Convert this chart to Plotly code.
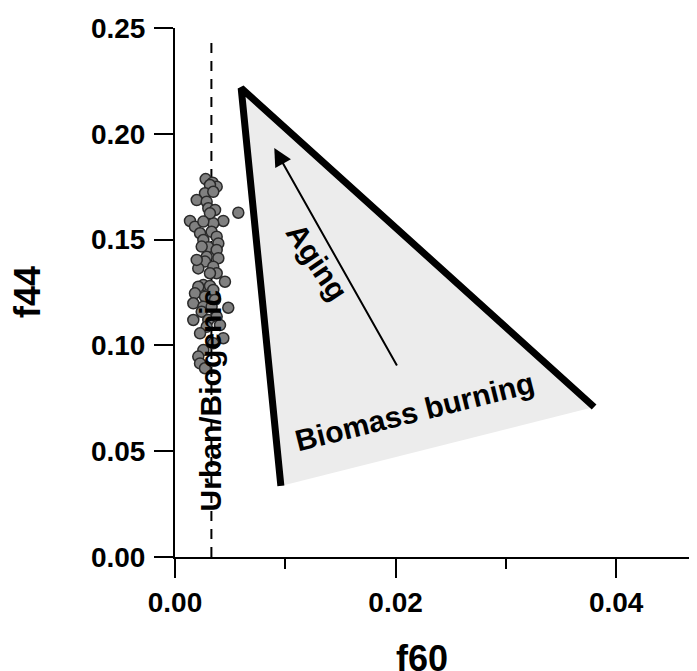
import plotly.graph_objects as go

# Observations (f60, f44)
f60_obs = [0.00278, 0.00341, 0.00378, 0.00317, 0.00272, 0.00347, 0.00197, 0.00287, 0.00302, 0.00363,
           0.00574, 0.00136, 0.00181, 0.00438, 0.00347, 0.00227, 0.00332, 0.00257, 0.00378, 0.00393,
           0.00302, 0.00378, 0.00393, 0.00287, 0.00272, 0.00211, 0.00347, 0.00378, 0.00317, 0.00453,
           0.00257, 0.00211, 0.00317, 0.00181, 0.00347, 0.00272, 0.00166, 0.00257, 0.00363, 0.00483,
           0.00242, 0.00166, 0.00302, 0.00378, 0.00408, 0.00438, 0.00347, 0.00257, 0.00211, 0.00227,
           0.00272, 0.00242, 0.00317, 0.00257, 0.00197, 0.00332, 0.00287, 0.00227]
f44_obs = [0.1786, 0.1769, 0.1750, 0.1758, 0.1719, 0.1726, 0.1687, 0.1679, 0.1648, 0.1640,
           0.1627, 0.1588, 0.1561, 0.1588, 0.1577, 0.1530, 0.1537, 0.1498, 0.1514, 0.1482,
           0.1464, 0.1451, 0.1412, 0.1419, 0.1396, 0.1364, 0.1372, 0.1341, 0.1341, 0.1301,
           0.1285, 0.1277, 0.1281, 0.1246, 0.1262, 0.1230, 0.1199, 0.1183, 0.1215, 0.1178,
           0.1159, 0.1120, 0.1120, 0.1136, 0.1096, 0.1034, 0.1010, 0.0978, 0.0947, 0.0915,
           0.0892, 0.1467, 0.1624, 0.1585, 0.1404, 0.1183, 0.1088, 0.1057]

# Biomass burning triangle vertices: bottom, top, right
tri_f60 = [0.0096, 0.0060, 0.0380]
tri_f44 = [0.0336, 0.2216, 0.0709]

# Urban/Biogenic reference line
urban_f60 = [0.0033, 0.0033]
urban_f44 = [0.0, 0.245]

# Aging arrow (tail -> head)
arrow_tail = (0.0202, 0.0898)
arrow_head = (0.0090, 0.1933)

x_ticks = [0.00, 0.02, 0.04]
x_ticklabels = ["0.00", "0.02", "0.04"]
y_ticks = [0.00, 0.05, 0.10, 0.15, 0.20, 0.25]
y_ticklabels = ["0.00", "0.05", "0.10", "0.15", "0.20", "0.25"]

FONT = "Liberation Sans, Arial, sans-serif"

# page has an 8px body margin; plot area should span page pixels x 175..697, y 28..557
OFF = 8
W, H = 697, 671
L, T = 175 - OFF, 28 - OFF
R = OFF
B = H + OFF - 557
PW, PH = W - L - R, H - T - B


def px_to_paper(px, py):
    return (px - OFF - L) / PW, (H - B - (py - OFF)) / PH


fig = go.Figure()

fig.add_trace(go.Scatter(x=tri_f60, y=tri_f44, fill="toself", fillcolor="#ececec",
                         mode="lines", line=dict(width=0, color="rgba(0,0,0,0)"),
                         hoverinfo="skip", showlegend=False))
fig.add_trace(go.Scatter(x=tri_f60, y=tri_f44, mode="lines",
                         line=dict(width=7, color="black"), showlegend=False))
fig.add_trace(go.Scatter(x=urban_f60, y=urban_f44, mode="lines",
                         line=dict(width=2, color="black", dash="10px,8px"), showlegend=False))
fig.add_trace(go.Scatter(x=f60_obs, y=f44_obs, mode="markers",
                         marker=dict(size=11, color="#808080", line=dict(width=1.5, color="#2a2a2a")),
                         showlegend=False))

fig.add_annotation(x=arrow_head[0], y=arrow_head[1], ax=arrow_tail[0], ay=arrow_tail[1],
                   xref="x", yref="y", axref="x", ayref="y", text="", showarrow=True,
                   arrowhead=2, arrowsize=1.8, arrowwidth=2, arrowcolor="black")

fig.add_annotation(x=0.01296, y=0.1394, xref="x", yref="y", text="<b>Aging</b>", showarrow=False,
                   textangle=56, xanchor="center", yanchor="middle",
                   font=dict(family=FONT, size=30, color="black"))
fig.add_annotation(x=0.02176, y=0.0690, xref="x", yref="y", text="<b>Biomass burning</b>", showarrow=False,
                   textangle=-14, xanchor="center", yanchor="middle",
                   font=dict(family=FONT, size=30, color="black"))
fig.add_annotation(x=0.0033, y=0.0742, xref="x", yref="y", text="<b>Urban/Biogenic</b>", showarrow=False,
                   textangle=-90, xanchor="center", yanchor="middle",
                   font=dict(family=FONT, size=30, color="black"))

xp, yp = px_to_paper(422, 658)
fig.add_annotation(x=xp, y=yp, xref="paper", yref="paper", text="<b>f60</b>", showarrow=False,
                   xanchor="center", yanchor="middle",
                   font=dict(family=FONT, size=36, color="black"))
xp, yp = px_to_paper(27, 292)
fig.add_annotation(x=xp, y=yp, xref="paper", yref="paper", text="<b>f44</b>", showarrow=False,
                   textangle=-90, xanchor="center", yanchor="middle",
                   font=dict(family=FONT, size=36, color="black"))

fig.update_layout(
    width=W, height=H,
    margin=dict(l=L, r=R, t=T, b=B, autoexpand=False),
    paper_bgcolor="white", plot_bgcolor="white",
    font=dict(family=FONT, color="black"),
    xaxis=dict(range=[0, 0.04733], tickvals=x_ticks, ticktext=["<b>%s</b>" % t for t in x_ticklabels],
               ticks="outside", ticklen=19, tickwidth=2, tickcolor="black", automargin=False,
               showline=True, linewidth=2, linecolor="black", showgrid=False, zeroline=False,
               tickfont=dict(size=28, family=FONT), ticklabelstandoff=0,
               minor=dict(ticks="outside", ticklen=10, tickwidth=2, tickcolor="black", dtick=0.01,
                          showgrid=False)),
    yaxis=dict(range=[0, 0.25], tickvals=y_ticks, ticktext=["<b>%s</b>" % t for t in y_ticklabels],
               ticks="outside", ticklen=19, tickwidth=2, tickcolor="black", automargin=False,
               showline=True, linewidth=2, linecolor="black", showgrid=False, zeroline=False,
               tickfont=dict(size=28, family=FONT), ticklabelstandoff=3),
)

fig.write_html("out.html")
